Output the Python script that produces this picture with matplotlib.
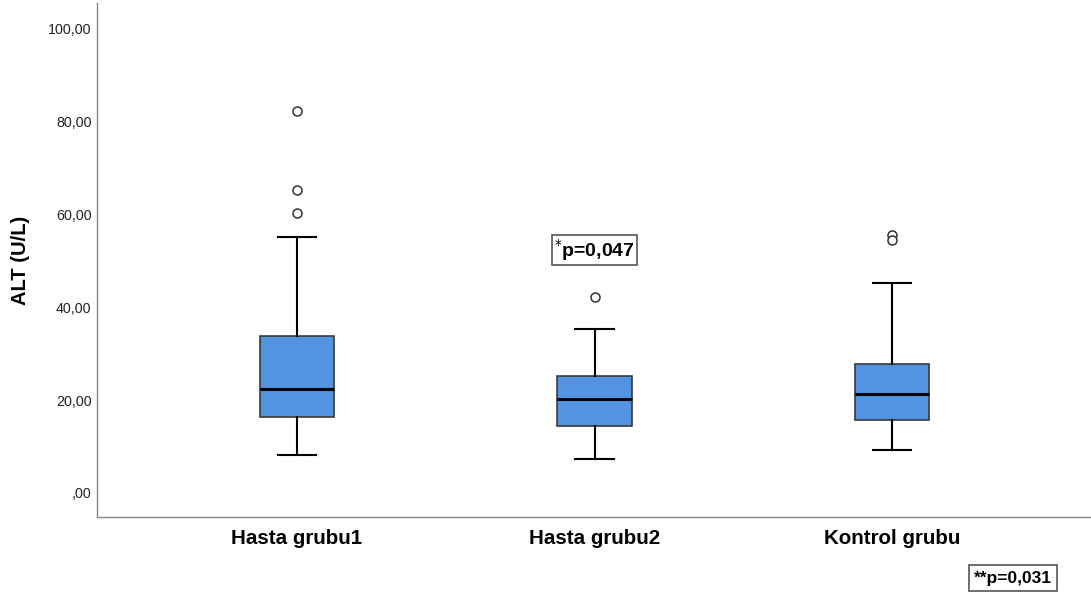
import matplotlib
matplotlib.use("Agg")
import matplotlib.pyplot as plt
from matplotlib.ticker import FuncFormatter

plt.rcParams["font.family"] = ["Liberation Sans", "DejaVu Sans"]

# group labels and five-number summaries (U/L)
groups = ["Hasta grubu1", "Hasta grubu2", "Kontrol grubu"]
whislo = [8.2, 7.3, 9.3]
q1 = [16.4, 14.4, 15.7]
med = [22.4, 20.3, 21.3]
q3 = [33.8, 25.2, 27.8]
whishi = [55.2, 35.3, 45.3]
fliers = [[82.3, 65.3, 60.3], [42.2], [55.6, 54.5]]

yticks = [0, 20, 40, 60, 80, 100]

stats = []
for i, g in enumerate(groups):
    stats.append(dict(label=g, whislo=whislo[i], q1=q1[i], med=med[i],
                      q3=q3[i], whishi=whishi[i], fliers=fliers[i]))

fig = plt.figure(figsize=(10.91, 5.99), dpi=100)
ax = fig.add_axes([97/1091, 1 - 517/599, (1090-97)/1091, (517-3)/599])

ax.bxp(stats, positions=[1, 2, 3], widths=0.25, patch_artist=True,
       boxprops=dict(facecolor="#5294E2", edgecolor="#3a3a3a", linewidth=1.2),
       medianprops=dict(color="black", linewidth=2.2),
       whiskerprops=dict(color="black", linewidth=1.5),
       capprops=dict(color="black", linewidth=1.5),
       capwidths=0.13,
       flierprops=dict(marker="o", markersize=6.5, markerfacecolor="white",
                       markeredgecolor="#333333", markeredgewidth=1.1))

ax.set_xlim(0.328, 3.665)
ax.set_ylim(-5.2, 105.6)
ax.set_yticks(yticks)
ax.yaxis.set_major_formatter(FuncFormatter(
    lambda v, p: ",00" if v == 0 else f"{int(v)},00"))
ax.tick_params(axis="y", length=0, labelsize=10.3, pad=4, labelcolor="#222222")
ax.tick_params(axis="x", length=0, labelsize=14.8, pad=9)
for lbl in ax.get_xticklabels():
    lbl.set_fontweight("bold")

for s in ["top", "right"]:
    ax.spines[s].set_visible(False)
for s in ["left", "bottom"]:
    ax.spines[s].set_color("#888888")
    ax.spines[s].set_linewidth(1.0)

ax.set_ylabel("ALT (U/L)", fontsize=14.5, fontweight="bold", labelpad=13)

# significance notes
ax.text(2.0, 52.3, r"$^{*}$p=0,047", ha="center", va="center",
        fontsize=14, fontweight="bold",
        bbox=dict(boxstyle="square,pad=0.1", facecolor="white",
                  edgecolor="#555555", linewidth=1.2))
fig.text(1013/1091, 1 - 578/599, "**p=0,031", ha="center", va="center",
         fontsize=12.5, fontweight="bold",
         bbox=dict(boxstyle="square,pad=0.3", facecolor="white",
                   edgecolor="#555555", linewidth=1.2))

fig.savefig("out.png", dpi=100)
